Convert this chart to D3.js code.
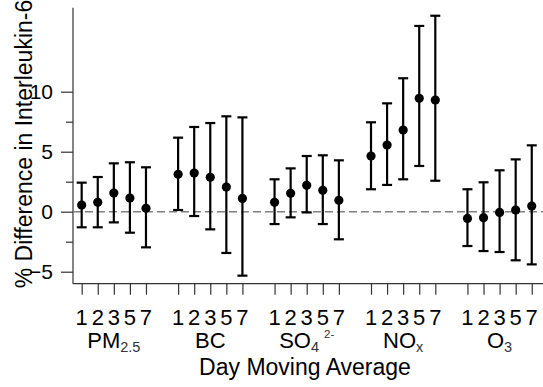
<!DOCTYPE html>
<html>
<head>
<meta charset="utf-8">
<script src="https://cdn.jsdelivr.net/npm/d3@7"></script>
<style>
  body { margin: 0; background: #fff; }
  svg { display: block; font-family: "Liberation Sans", Arial, sans-serif; }
</style>
</head>
<body>
<div id="chart"></div>
<script>
const W = 543, H = 387;

// pollutants and moving-average lags
const pollutants = ["PM", "BC", "SO", "NO", "O"];
const lags = ["1", "2", "3", "5", "7"];

// % difference estimates and 95% CI, one row per pollutant
const est = [
  [0.56, 0.78, 1.56, 1.14, 0.28],
  [3.12, 3.22, 2.87, 2.05, 1.11],
  [0.78, 1.53, 2.20, 1.78, 0.95],
  [4.64, 5.56, 6.81, 9.45, 9.31],
  [-0.56, -0.50, -0.06, 0.14, 0.47]
];
const lower = [
  [-1.30, -1.30, -0.89, -1.75, -2.97],
  [0.14, -0.36, -1.47, -3.44, -5.33],
  [-1.03, -0.47, -0.06, -1.03, -2.30],
  [1.87, 2.23, 2.70, 3.81, 2.58],
  [-2.86, -3.28, -3.36, -4.05, -4.39]
];
const upper = [
  [2.42, 2.89, 4.03, 4.12, 3.70],
  [6.17, 7.06, 7.39, 7.95, 7.86],
  [2.70, 3.61, 4.64, 4.70, 4.28],
  [7.45, 9.03, 11.12, 15.48, 16.33],
  [1.87, 2.45, 3.45, 4.36, 5.53]
];

const yMajor = [-5, 0, 5, 10];
const yMinor = [-2.5, 2.5, 7.5];

// flatten into rows with a slot index (gap of one slot between groups)
const rows = [];
pollutants.forEach((p, g) => {
  lags.forEach((l, i) => {
    rows.push({g: g, lag: l, slot: g * 6 + i, est: est[g][i], lo: lower[g][i], hi: upper[g][i]});
  });
});

const svg = d3.select("#chart").append("svg")
  .attr("width", W).attr("height", H);

const x = d3.scaleLinear().domain([-0.54, 28.7]).range([73, 543]);
const y = d3.scaleLinear().domain([-6, 17]).range([283.7, 7.7]);

const axisColor = "#333";

// axis lines
svg.append("line")
  .attr("x1", 73).attr("x2", 73)
  .attr("y1", y(17)).attr("y2", y(-6))
  .attr("stroke", axisColor).attr("stroke-width", 1.2);
svg.append("line")
  .attr("x1", 73).attr("x2", 543)
  .attr("y1", y(-6)).attr("y2", y(-6))
  .attr("stroke", axisColor).attr("stroke-width", 1.2);

// y axis ticks
const yAx = svg.append("g").attr("transform", "translate(73,0)")
  .call(d3.axisLeft(y).tickValues(yMajor).tickSize(12).tickPadding(8).tickFormat(d3.format("d")));
yAx.select(".domain").remove();
yAx.selectAll("line").attr("stroke", axisColor).attr("stroke-width", 1.2);
yAx.selectAll("text").attr("font-size", 21).attr("fill", "#000")
  .attr("font-family", "Liberation Sans, Arial, sans-serif");

const yAx2 = svg.append("g").attr("transform", "translate(73,0)")
  .call(d3.axisLeft(y).tickValues(yMinor).tickSize(7).tickFormat(""));
yAx2.select(".domain").remove();
yAx2.selectAll("line").attr("stroke", axisColor).attr("stroke-width", 1.2);

// x axis ticks
const xAx = svg.append("g").attr("transform", `translate(0,${y(-6)})`)
  .call(d3.axisBottom(x).tickValues(rows.map(d => d.slot)).tickSize(11).tickFormat(""));
xAx.select(".domain").remove();
xAx.selectAll("line").attr("stroke", axisColor).attr("stroke-width", 1.2);

// lag labels
svg.append("g").selectAll("text")
  .data(rows)
  .join("text")
  .attr("x", d => x(d.slot))
  .attr("y", 325)
  .attr("text-anchor", "middle")
  .attr("font-size", 22)
  .text(d => d.lag);

// pollutant labels with sub/superscripts
const subs = ["2.5", "", "4", "x", "3"];
const sups = ["", "", "2-", "", ""];
pollutants.forEach((p, g) => {
  const t = svg.append("text")
    .attr("x", x(g * 6 + 2))
    .attr("y", 348)
    .attr("text-anchor", "middle")
    .attr("font-size", 22);
  t.append("tspan").text(p);
  if (subs[g]) {
    t.append("tspan").attr("font-size", 14.5).attr("dy", 4).attr("fill", "#333").text(subs[g]);
  }
  if (sups[g]) {
    t.append("tspan").attr("font-size", 11.5).attr("dx", 5).attr("dy", -14).attr("fill", "#333").text(sups[g]);
  }
});

// axis titles
svg.append("text")
  .attr("x", 305).attr("y", 374.5)
  .attr("text-anchor", "middle")
  .attr("font-size", 23)
  .text("Day Moving Average");

svg.append("text")
  .attr("transform", "translate(32,144) rotate(-90)")
  .attr("text-anchor", "middle")
  .attr("font-size", 23)
  .text("% Difference in Interleukin-6");

// zero reference line
svg.append("line")
  .attr("x1", 73).attr("x2", 543)
  .attr("y1", y(0)).attr("y2", y(0))
  .attr("stroke", "#808080").attr("stroke-width", 1.5)
  .attr("stroke-dasharray", "8,4");

// error bars
const bars = svg.append("g");
bars.selectAll("line.v")
  .data(rows)
  .join("line")
  .attr("class", "v")
  .attr("x1", d => x(d.slot)).attr("x2", d => x(d.slot))
  .attr("y1", d => y(d.lo)).attr("y2", d => y(d.hi))
  .attr("stroke", "#000").attr("stroke-width", 2.2);

["lo", "hi"].forEach(k => {
  bars.selectAll("line.c" + k)
    .data(rows)
    .join("line")
    .attr("class", "c" + k)
    .attr("x1", d => x(d.slot) - 5).attr("x2", d => x(d.slot) + 5)
    .attr("y1", d => y(d[k])).attr("y2", d => y(d[k]))
    .attr("stroke", "#000").attr("stroke-width", 2.2);
});

// point estimates
svg.append("g").selectAll("circle")
  .data(rows)
  .join("circle")
  .attr("cx", d => x(d.slot))
  .attr("cy", d => y(d.est))
  .attr("r", 4.6)
  .attr("fill", "#000");
</script>
</body>
</html>
